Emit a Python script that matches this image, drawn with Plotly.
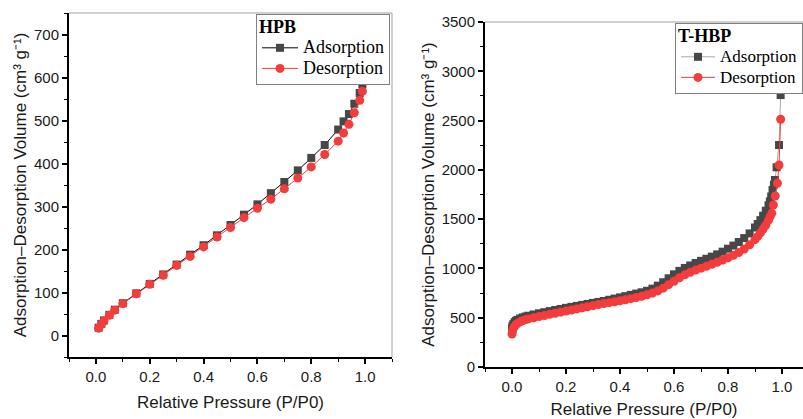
import plotly.graph_objects as go

# ---------------- data: HPB (left panel) ----------------
hpb_ads_x = [0.01, 0.02, 0.03, 0.05, 0.07, 0.10, 0.15, 0.20, 0.25, 0.30, 0.35, 0.40, 0.45,
             0.50, 0.55, 0.60, 0.65, 0.70, 0.75, 0.80, 0.85, 0.90, 0.92, 0.94, 0.96, 0.98, 0.99]
hpb_ads_y = [18, 27, 35, 48, 60, 75, 98, 120, 142, 165, 188, 210, 233,
             257, 281, 305, 331, 357, 384, 413, 443, 479, 498, 515, 539, 564, 584]
hpb_des_x = [0.99, 0.98, 0.96, 0.94, 0.92, 0.90, 0.85, 0.80, 0.75, 0.70, 0.65, 0.60, 0.55,
             0.50, 0.45, 0.40, 0.35, 0.30, 0.25, 0.20, 0.15, 0.10, 0.07, 0.05, 0.03, 0.02, 0.01]
hpb_des_y = [568, 547, 518, 491, 471, 452, 421, 392, 366, 341, 317, 296, 274,
             251, 229, 206, 184, 163, 140, 119, 97, 74, 59, 47, 34, 26, 17]

# ---------------- data: T-HBP (right panel) ----------------
thbp_ads_x = [0.0, 0.002, 0.005, 0.01, 0.015, 0.02, 0.03, 0.04, 0.05, 0.06, 0.08,
              0.10, 0.12, 0.14, 0.16, 0.18, 0.20, 0.22, 0.24, 0.26, 0.28, 0.30,
              0.32, 0.34, 0.36, 0.38, 0.40, 0.42, 0.44, 0.46, 0.48, 0.50,
              0.52, 0.54, 0.56, 0.58, 0.60, 0.62, 0.64, 0.66, 0.68, 0.70,
              0.72, 0.74, 0.76, 0.78, 0.80, 0.82, 0.84, 0.86, 0.88, 0.90,
              0.91, 0.92, 0.93, 0.94, 0.95, 0.955, 0.96, 0.965, 0.97, 0.974,
              0.98, 0.989, 0.995]
thbp_ads_y = [392, 415, 435, 455, 468, 478, 492, 503, 512, 520, 533,
              545, 556, 567, 578, 589, 600, 610, 620, 630, 640, 650,
              660, 670, 682, 694, 706, 719, 732, 745, 758, 773,
              795, 825, 860, 900, 940, 975, 1005, 1030, 1055, 1077,
              1098, 1120, 1143, 1170, 1200, 1232, 1268, 1308, 1355, 1415,
              1450, 1490, 1535, 1585, 1640, 1680, 1730, 1796, 1850, 1897,
              2026, 2252, 2759]
thbp_des_x = [0.995, 0.989, 0.983, 0.975, 0.968, 0.962, 0.956, 0.95, 0.94, 0.93, 0.92,
              0.91, 0.90, 0.88, 0.86, 0.84, 0.82, 0.80, 0.78, 0.76, 0.74, 0.72,
              0.70, 0.68, 0.66, 0.64, 0.62, 0.60, 0.58, 0.56, 0.54, 0.52,
              0.50, 0.48, 0.46, 0.44, 0.42, 0.40, 0.38, 0.36, 0.34, 0.32,
              0.30, 0.28, 0.26, 0.24, 0.22, 0.20, 0.18, 0.16, 0.14, 0.12,
              0.10, 0.08, 0.06, 0.05, 0.04, 0.03, 0.02, 0.015, 0.01, 0.005,
              0.002, 0.0]
thbp_des_y = [2513, 2049, 1864, 1735, 1643, 1559, 1525, 1490, 1440, 1400, 1360,
              1325, 1292, 1240, 1197, 1162, 1133, 1108, 1085, 1063, 1042, 1022,
              1003, 983, 960, 935, 905, 870, 835, 800, 772, 750,
              733, 718, 705, 693, 682, 672, 662, 653, 643, 633,
              622, 611, 600, 589, 578, 567, 556, 545, 534, 523,
              512, 500, 488, 480, 470, 458, 442, 430, 415, 392,
              365, 335]

# tick labels
x_ticks = [0.0, 0.2, 0.4, 0.6, 0.8, 1.0]
x_ticktext = ["0.0", "0.2", "0.4", "0.6", "0.8", "1.0"]
hpb_y_ticks = [0, 100, 200, 300, 400, 500, 600, 700]
thbp_y_ticks = [0, 500, 1000, 1500, 2000, 2500, 3000, 3500]

GREY = "#474747"
RED = "#f53c3c"
W, H = 803, 419


def big(s, px, bold=False):
    t = f"<span style='font-size:{px}px'>{s}</span>"
    return f"<b>{t}</b>" if bold else t


fig = go.Figure()

fig.add_trace(go.Scatter(x=hpb_ads_x, y=hpb_ads_y, mode="lines+markers", name=big("Adsorption", 18),
                         line=dict(color="#000000", width=1),
                         marker=dict(symbol="square", size=8, color=GREY),
                         xaxis="x", yaxis="y", legend="legend"))
fig.add_trace(go.Scatter(x=hpb_des_x, y=hpb_des_y, mode="lines+markers", name=big("Desorption", 18),
                         line=dict(color=RED, width=1),
                         marker=dict(symbol="circle", size=9, color=RED),
                         xaxis="x", yaxis="y", legend="legend"))
fig.add_trace(go.Scatter(x=thbp_ads_x, y=thbp_ads_y, mode="lines+markers", name=big("Adsorption", 17),
                         line=dict(color="#a8a8a8", width=1),
                         marker=dict(symbol="square", size=8, color=GREY),
                         xaxis="x2", yaxis="y2", legend="legend2"))
fig.add_trace(go.Scatter(x=thbp_des_x, y=thbp_des_y, mode="lines+markers", name=big("Desorption", 17),
                         line=dict(color=RED, width=1),
                         marker=dict(symbol="circle", size=9, color=RED),
                         xaxis="x2", yaxis="y2", legend="legend2"))

tickfont = dict(family="Liberation Sans, Arial", size=15, color="#1a1a1a")
titlefont = dict(family="Liberation Sans, Arial", size=17, color="#1a1a1a")
ytitle = "Adsorption\u2013Desorption Volume (cm\u00b3 g\u207b\u00b9)"


def xax(domain, rng, anchor):
    return dict(domain=domain, range=rng, anchor=anchor, tickvals=x_ticks, ticktext=x_ticktext,
                ticks="outside", ticklen=5, tickwidth=1.5, tickcolor="#000",
                minor=dict(dtick=0.1, tick0=0, ticks="outside", ticklen=3, tickwidth=1.2, tickcolor="#000"),
                showline=True, linecolor="#000", linewidth=2, showgrid=False, zeroline=False,
                tickfont=tickfont, title=dict(text="Relative Pressure (P/P0)", font=titlefont, standoff=12))


def yax(domain, rng, anchor, tv, minor_dt):
    return dict(domain=domain, range=rng, anchor=anchor, tickvals=tv,
                ticks="outside", ticklen=5, tickwidth=1.5, tickcolor="#000",
                minor=dict(dtick=minor_dt, tick0=0, ticks="outside", ticklen=3, tickwidth=1.2, tickcolor="#000"),
                showline=True, linecolor="#000", linewidth=2, showgrid=False, zeroline=False,
                tickfont=tickfont, title=dict(text=ytitle, font=titlefont, standoff=3))


legfont = dict(family="Liberation Serif", size=13.5, color="#000")
common_leg = dict(font=legfont, bgcolor="white", bordercolor="#808080", borderwidth=1,
                  tracegroupgap=0, itemsizing="trace", yanchor="top")

fig.update_layout(
    width=W, height=H,
    margin=dict(l=0, r=0, t=0, b=0, autoexpand=False),
    paper_bgcolor="white", plot_bgcolor="white",
    xaxis=xax([69 / W, 392 / W], [-0.1, 1.1], "y"),
    yaxis=yax([(H - 357) / H, (H - 13) / H], [-50, 750], "x", hpb_y_ticks, 50),
    xaxis2=xax([485 / W, 1.0], [-0.1, -0.1 + (W - 485) / 270], "y2"),
    yaxis2=yax([(H - 367) / H, (H - 22) / H], [0, 3500], "x2", thbp_y_ticks, 250),
    legend=dict(title=dict(text=big("HPB", 18, True), font=legfont),
                x=390 / W, xanchor="right", y=(H - 14) / H, itemwidth=36, **common_leg),
    legend2=dict(title=dict(text=big("T-HBP", 18, True), font=legfont),
                 x=1.0, xanchor="right", y=(H - 23) / H, itemwidth=34, **common_leg),
    showlegend=True,
)

# thin grey frame lines (top / right)
frame = dict(type="line", line=dict(color="#a0a0a0", width=1), layer="below")
fig.add_shape(xref="x domain", yref="y domain", x0=0, x1=1, y0=1, y1=1, **frame)
fig.add_shape(xref="x domain", yref="y domain", x0=1, x1=1, y0=0, y1=1, **frame)
fig.add_shape(xref="x2 domain", yref="y2 domain", x0=0, x1=1, y0=1, y1=1, **frame)

fig.write_html("out.html", config={"displayModeBar": False},
               post_script="document.body.style.margin='0';document.body.style.overflow='hidden';")
